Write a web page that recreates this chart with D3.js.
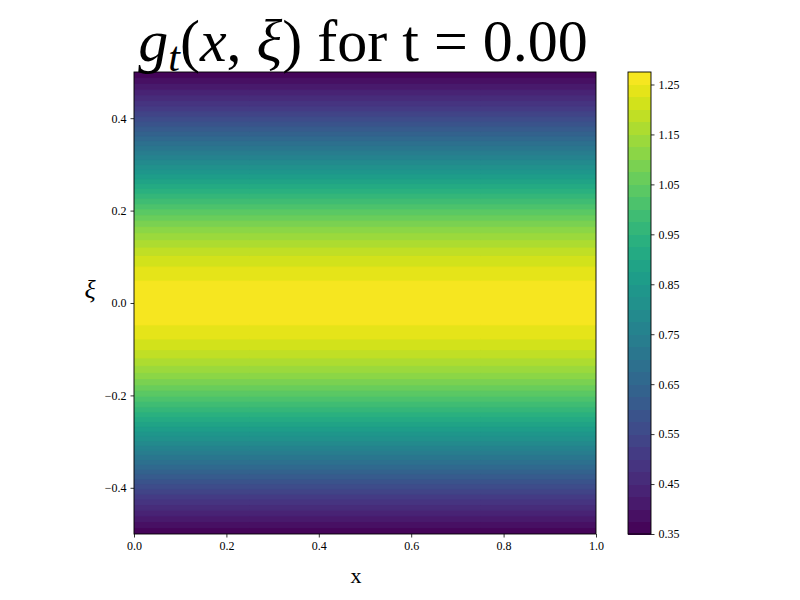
<!DOCTYPE html>
<html lang="en">
<head>
<meta charset="utf-8" />
<title>g_t(x, xi)</title>
<script src="https://cdn.jsdelivr.net/npm/d3@7"></script>
<style>
  body { margin: 0; background: #fff; }
  svg { display: block; }
  text { font-family: "Liberation Serif", "DejaVu Serif", serif; fill: #000; }
</style>
</head>
<body>
<script>
// xi samples (step 0.025) and the profile g (constant in x)
var xiSamples = d3.range(41).map(function (i) { return -0.5 + i * 0.025; });
var gProfile = [
  0.351, 0.398, 0.448, 0.501, 0.557, 0.615, 0.675, 0.736, 0.797, 0.858,
  0.918, 0.976, 1.030, 1.081, 1.127, 1.168, 1.202, 1.229, 1.249, 1.261,
  1.265,
  1.261, 1.249, 1.229, 1.202, 1.168, 1.127, 1.081, 1.030, 0.976, 0.918,
  0.858, 0.797, 0.736, 0.675, 0.615, 0.557, 0.501, 0.448, 0.398, 0.351
];
var levels = d3.range(38).map(function (i) { return +(0.35 + i * 0.025).toFixed(3); });
var xTicks = [0, 0.2, 0.4, 0.6, 0.8, 1.0];
var yTicks = [-0.4, -0.2, 0, 0.2, 0.4];
var cbTicks = [0.35, 0.45, 0.55, 0.65, 0.75, 0.85, 0.95, 1.05, 1.15, 1.25];

var W = 800, H = 600;
var plot = { left: 134, right: 596, top: 72, bottom: 534 };
var cb = { left: 628, right: 651 };

var svg = d3.select("body").append("svg").attr("width", W).attr("height", H);

var x = d3.scaleLinear().domain([0, 1]).range([plot.left, plot.right]);
var y = d3.scaleLinear().domain([-0.5, 0.5]).range([plot.bottom, plot.top]);
var lo = levels[0], hi = levels[levels.length - 1];
var color = function (i) {
  var mid = (levels[i] + levels[i + 1]) / 2;
  return d3.interpolateViridis((mid - lo) / (hi - lo));
};

// grid: 4 identical columns, 41 rows (xi samples); plot shows inner columns only
var nx = 4, ny = xiSamples.length;
var values = [];
gProfile.forEach(function (v) { for (var k = 0; k < nx; k++) values.push(v); });

// grid coords -> data: row sample k sits at k + 0.5
var gx = d3.scaleLinear().domain([1, nx - 1]).range([0, 1]);
var gy = d3.scaleLinear().domain([0.5, ny - 0.5]).range([-0.5, 0.5]);
var proj = d3.geoTransform({
  point: function (px, py) { this.stream.point(x(gx(px)), y(gy(py))); }
});
var path = d3.geoPath(proj);

var contours = d3.contours().size([nx, ny]).thresholds(levels.slice(0, -1))(values);

svg.append("clipPath").attr("id", "clip")
  .append("rect")
  .attr("x", plot.left).attr("y", plot.top)
  .attr("width", plot.right - plot.left).attr("height", plot.bottom - plot.top);

svg.append("g").attr("clip-path", "url(#clip)")
  .selectAll("path")
  .data(contours)
  .enter().append("path")
  .attr("d", path)
  .attr("fill", function (d, i) { return color(i); })
  .attr("stroke", function (d, i) { return color(i); })
  .attr("stroke-width", 0.3);

// axes
var xAxis = d3.axisBottom(x).tickValues(xTicks).tickSize(3.5).tickPadding(4)
  .tickFormat(d3.format(".1f"));
var yAxis = d3.axisLeft(y).tickValues(yTicks).tickSize(3.5).tickPadding(4)
  .tickFormat(function (d) { return d3.format(".1f")(d).replace("-", "\u2212"); });

var gxAxis = svg.append("g").attr("transform", "translate(0," + plot.bottom + ")").call(xAxis);
var gyAxis = svg.append("g").attr("transform", "translate(" + plot.left + ",0)").call(yAxis);
[gxAxis, gyAxis].forEach(function (g) {
  g.select(".domain").remove();
  g.selectAll("line").attr("stroke", "#000").attr("stroke-width", 0.8);
  g.selectAll("text").attr("font-size", 12).attr("font-family", "Liberation Serif, serif");
});

svg.append("rect")
  .attr("x", plot.left).attr("y", plot.top)
  .attr("width", plot.right - plot.left).attr("height", plot.bottom - plot.top)
  .attr("fill", "none").attr("stroke", "#000").attr("stroke-width", 0.9);

// colorbar
var cy = d3.scaleLinear().domain([lo, hi]).range([plot.bottom, plot.top]);
svg.append("g").attr("shape-rendering", "crispEdges").selectAll("rect")
  .data(levels.slice(0, -1))
  .enter().append("rect")
  .attr("x", cb.left)
  .attr("y", function (d, i) { return cy(levels[i + 1]); })
  .attr("width", cb.right - cb.left)
  .attr("height", function (d, i) { return cy(levels[i]) - cy(levels[i + 1]) + 0.5; })
  .attr("fill", function (d, i) { return color(i); });

var cbAxis = d3.axisRight(cy).tickValues(cbTicks).tickSize(3.5).tickPadding(4)
  .tickFormat(d3.format(".2f"));
var gcb = svg.append("g").attr("transform", "translate(" + cb.right + ",0)").call(cbAxis);
gcb.select(".domain").remove();
gcb.selectAll("line").attr("stroke", "#000").attr("stroke-width", 0.8);
gcb.selectAll("text").attr("font-size", 12).attr("font-family", "Liberation Serif, serif");

svg.append("rect")
  .attr("x", cb.left).attr("y", plot.top)
  .attr("width", cb.right - cb.left).attr("height", plot.bottom - plot.top)
  .attr("fill", "none").attr("stroke", "#000").attr("stroke-width", 0.9);

// labels
svg.append("text").attr("x", 356).attr("y", 583)
  .attr("text-anchor", "middle").attr("font-size", 22).text("x");
svg.append("text").attr("x", 90).attr("y", 298)
  .attr("text-anchor", "middle").attr("font-size", 26).attr("font-style", "italic").text("\u03BE");

// title
var title = svg.append("text").attr("x", 363).attr("y", 61)
  .attr("text-anchor", "middle").attr("font-size", 60);
title.append("tspan").attr("font-style", "italic").text("g");
title.append("tspan").attr("font-style", "italic").attr("font-size", 42).attr("dy", 10).text("t");
title.append("tspan").attr("dy", -10).text("(");
title.append("tspan").attr("font-style", "italic").text("x");
title.append("tspan").text(", ");
title.append("tspan").attr("font-style", "italic").text("\u03BE");
title.append("tspan").text(") for t = 0.00");
</script>
</body>
</html>
